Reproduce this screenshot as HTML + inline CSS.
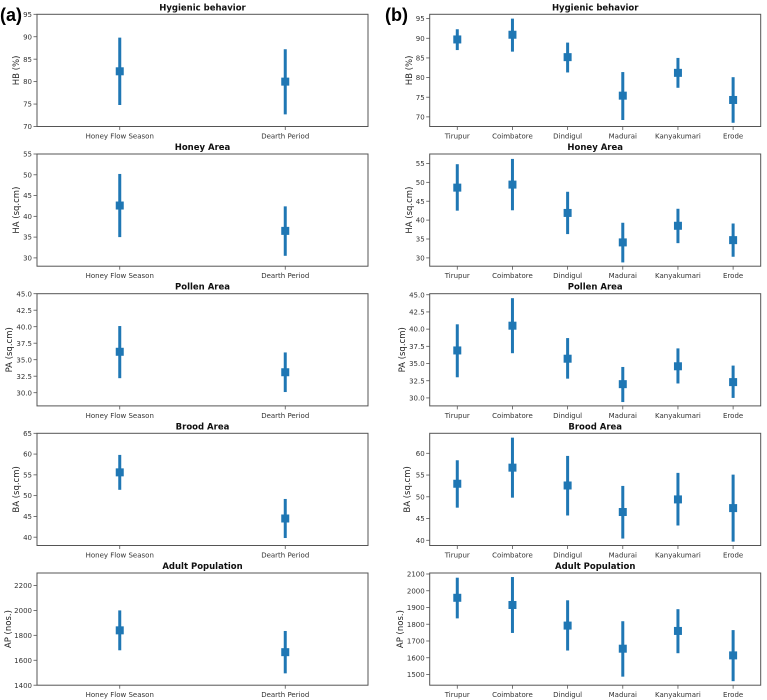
<!DOCTYPE html>
<html><head><meta charset="utf-8"><style>
html,body{margin:0;padding:0;background:#fff;}
svg{display:block;font-family:"DejaVu Sans","Liberation Sans",sans-serif;}
</style></head><body>
<svg id="fig" width="767" height="700" viewBox="0 0 767 700">
<text x="0" y="21" font-size="18" font-weight="bold" font-family="Liberation Sans, sans-serif">(a)</text>
<text x="385" y="21" font-size="18" font-weight="bold" font-family="Liberation Sans, sans-serif">(b)</text>
</svg>
<script>
const seasons = ["Honey Flow Season","Dearth Period"];
const districts = ["Tirupur","Coimbatore","Dindigul","Madurai","Kanyakumari","Erode"];

const titles = ["Hygienic behavior","Honey Area","Pollen Area","Brood Area","Adult Population"];
const ylabels = ["HB (%)","HA (sq.cm)","PA (sq.cm)","BA (sq.cm)","AP (nos.)"];

// left column (a): means, lower, upper
const aHBmean=[82.3,80.0], aHBlo=[74.8,72.7], aHBhi=[89.8,87.2];
const aHAmean=[42.6,36.5], aHAlo=[35.0,30.5], aHAhi=[50.2,42.4];
const aPAmean=[36.2,33.1], aPAlo=[32.2,30.1], aPAhi=[40.1,36.1];
const aBAmean=[55.6,44.5], aBAlo=[51.4,39.8], aBAhi=[59.8,49.2];
const aAPmean=[1840,1665], aAPlo=[1680,1495], aAPhi=[2000,1835];

// right column (b)
const bHBmean=[89.7,90.9,85.2,75.4,81.2,74.3], bHBlo=[87.0,86.6,81.3,69.2,77.4,68.5], bHBhi=[92.3,95.0,88.9,81.4,85.0,80.1];
const bHAmean=[48.6,49.4,41.9,34.1,38.5,34.7], bHAlo=[42.5,42.6,36.3,28.8,33.9,30.3], bHAhi=[54.8,56.2,47.5,39.3,43.0,39.1];
const bPAmean=[36.9,40.5,35.7,32.0,34.6,32.3], bPAlo=[33.0,36.5,32.8,29.4,32.1,30.0], bPAhi=[40.7,44.5,38.7,34.5,37.2,34.7];
const bBAmean=[53.0,56.7,52.6,46.5,49.4,47.4], bBAlo=[47.5,49.8,45.7,40.4,43.4,39.7], bBAhi=[58.4,63.6,59.4,52.5,55.5,55.1];
const bAPmean=[1958,1915,1792,1654,1760,1614], bAPlo=[1835,1748,1643,1487,1627,1460], bAPhi=[2078,2082,1943,1818,1890,1765];

const aTicks=[[70,75,80,85,90,95],[30,35,40,45,50,55],[30,32.5,35,37.5,40,42.5,45],[40,45,50,55,60,65],[1400,1600,1800,2000,2200]];
const bTicks=[[70,75,80,85,90,95],[30,35,40,45,50,55],[30,32.5,35,37.5,40,42.5,45],[40,45,50,55,60],[1500,1600,1700,1800,1900,2000,2100]];
const aLims=[[70,95],[28,55],[28,45],[38,65],[1400,2300]];
const bLims=[[67.55,96.1],[27.8,57.5],[28.84,45.15],[38.8,64.6],[1436,2106]];

const svg=document.getElementById('fig');
const NS='http://www.w3.org/2000/svg';
function mk(tag,attrs,parent){const e=document.createElementNS(NS,tag);for(const k in attrs)e.setAttribute(k,attrs[k]);(parent||svg).appendChild(e);return e;}

const panelTops=[14.3,154,293.7,433.3,573];
const panelH=112.2;
const codes=["hb","ha","pa","ba","ap"];
const aLabX=[19,19,12,19,11];
const bLabX=[412,412,405,410,403];

function draw(col,xL,xR,cats,means,los,his,ticks,lims,labX){
  for(let p=0;p<5;p++){
    const top=panelTops[p], bot=top+panelH;
    const g=mk('g',{});
    
    
    const [y0,y1]=lims[p];
    const ys=v=>bot-(v-y0)/(y1-y0)*(bot-top);
    const n=cats.length, w=(xR-xL)/n;
    const xs=i=>xL+w*(i+0.5);
    const fr=mk('rect',{x:xL,y:top,width:xR-xL,height:bot-top,fill:'none',stroke:'#555','stroke-width':1},g);
    
    
    const t=mk('text',{x:(xL+xR)/2,y:top-4,'font-size':8.5,'font-weight':'bold','text-anchor':'middle',fill:'#111'},g);
    t.textContent=titles[p];
    
    
    ticks[p].forEach(v=>{
      const y=ys(v);
      mk('line',{x1:xL-3.5,x2:xL,y1:y,y2:y,stroke:'#555','stroke-width':0.8},g);
      const tl=mk('text',{x:xL-5,y:y+2.6,'font-size':7,'text-anchor':'end',fill:'#333'},g);
      tl.textContent=(p==2)?v.toFixed(1):String(v);
      
      
    });
    const ylabX=labX[p];
    const yl=mk('text',{x:ylabX,y:(top+bot)/2,'font-size':8.5,'text-anchor':'middle',fill:'#222',transform:`rotate(-90 ${ylabX} ${(top+bot)/2})`},g);
    yl.textContent=ylabels[p];
    
    
    cats.forEach((c,i)=>{
      const x=xs(i);
      mk('line',{x1:x,x2:x,y1:bot,y2:bot+3.5,stroke:'#555','stroke-width':0.8},g);
      const xl=mk('text',{x:x,y:bot+12,'font-size':7,'text-anchor':'middle',fill:'#333'},g);
      xl.textContent=c;
      
      
      const eb=mk('line',{x1:x,x2:x,y1:ys(his[p][i]),y2:ys(los[p][i]),stroke:'#1f77b4','stroke-width':3},g);
      
      
      const m=mk('rect',{x:x-4,y:ys(means[p][i])-4,width:8,height:8,fill:'#1f77b4'},g);
      
      
    });
  }
}
draw('a',37,368,seasons,
  [aHBmean,aHAmean,aPAmean,aBAmean,aAPmean],
  [aHBlo,aHAlo,aPAlo,aBAlo,aAPlo],
  [aHBhi,aHAhi,aPAhi,aBAhi,aAPhi],aTicks,aLims,aLabX);
draw('b',429.7,760.7,districts,
  [bHBmean,bHAmean,bPAmean,bBAmean,bAPmean],
  [bHBlo,bHAlo,bPAlo,bBAlo,bAPlo],
  [bHBhi,bHAhi,bPAhi,bBAhi,bAPhi],bTicks,bLims,bLabX);
</script>
</body></html>
